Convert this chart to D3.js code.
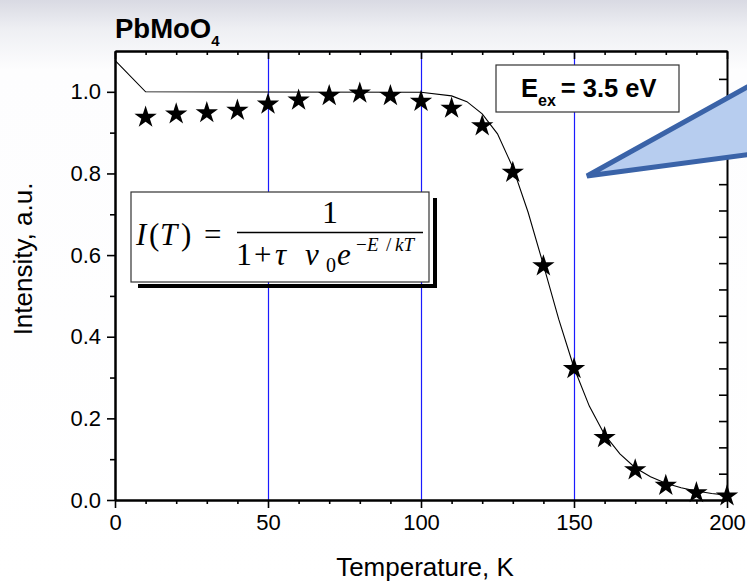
<!DOCTYPE html>
<html>
<head>
<meta charset="utf-8">
<script src="https://cdn.jsdelivr.net/npm/d3@7"></script>
<style>
  body { margin: 0; background: #fff; }
  svg { display: block; }
  text { font-family: "Liberation Sans", Arial, sans-serif; fill: #000; }
  text.serif { font-family: "Liberation Serif", "Times New Roman", serif; }
</style>
</head>
<body>
<svg id="chart" width="747" height="583"></svg>
<script>
// Measured luminescence intensity of PbMoO4 vs temperature
const temperatures = [10, 20, 30, 40, 50, 60, 70, 80, 90, 100,
                      110, 120, 130, 140, 150, 160, 170, 180, 190, 200];
const intensity = [0.940, 0.948, 0.951, 0.957, 0.972, 0.982, 0.993, 0.999, 0.993, 0.979,
                   0.962, 0.919, 0.805, 0.576, 0.324, 0.155, 0.076, 0.038, 0.020, 0.012];

// Thermal-quenching fit curve
const fitTemperatures = [0, 10, 100, 110, 115, 120, 125, 130, 135, 140, 145,
                         150, 155, 160, 165, 170, 175, 180, 185, 190, 195, 200];
const fitIntensity = [1.077, 1.000, 0.999, 0.990, 0.976, 0.946, 0.897, 0.815, 0.705, 0.576, 0.443,
                      0.324, 0.230, 0.160, 0.113, 0.079, 0.057, 0.041, 0.030, 0.022, 0.016, 0.012];

const xTickValues = [0, 50, 100, 150, 200];
const xMinorTicks = [10, 20, 30, 40, 60, 70, 80, 90, 110, 120, 130, 140, 160, 170, 180, 190];
const yTickValues = [0, 0.2, 0.4, 0.6, 0.8, 1.0];
const yMinorTicks = [0.1, 0.3, 0.5, 0.7, 0.9];
const rightTickValues = [0.1, 0.2, 0.3, 0.4, 0.5, 0.6, 0.7, 0.8, 0.9, 1.0, 1.1, 1.2, 1.3, 1.4, 1.5, 1.6];
const guideTemperatures = [50, 100, 150];

const svg = d3.select("#chart");
const W = 747, H = 583;
const m = { left: 115, right: 20, top: 51, bottom: 83 };
const pw = W - m.left - m.right, ph = H - m.top - m.bottom;

// slide background: soft grey band fading out at the top
const defs = svg.append("defs");
const grad = defs.append("linearGradient").attr("id", "bg").attr("x1", 0).attr("y1", 0).attr("x2", 0).attr("y2", 1);
grad.append("stop").attr("offset", 0).attr("stop-color", "#d9dae3");
grad.append("stop").attr("offset", 0.05).attr("stop-color", "#eeeff3");
grad.append("stop").attr("offset", 0.12).attr("stop-color", "#fdfdfe");
grad.append("stop").attr("offset", 1).attr("stop-color", "#ffffff");
svg.append("rect").attr("width", W).attr("height", H).attr("fill", "url(#bg)");

const x = d3.scaleLinear().domain([0, 200]).range([m.left, m.left + pw]);
const y = d3.scaleLinear().domain([0, 1.1]).range([m.top + ph, m.top]);
const yRight = d3.scaleLinear().domain([0, 1.706]).range([m.top + ph, m.top]);

// plot area
svg.append("rect").attr("x", m.left).attr("y", m.top).attr("width", pw).attr("height", ph).attr("fill", "#fff");

// vertical blue guide lines
svg.append("g").selectAll("line").data(guideTemperatures).join("line")
  .attr("x1", d => Math.round(x(d)) + 0.5).attr("x2", d => Math.round(x(d)) + 0.5)
  .attr("y1", y(0)).attr("y2", y(1.1))
  .attr("stroke", "#1a1aff").attr("stroke-width", 1.2);

// fit curve
svg.append("path")
  .datum(fitTemperatures.map((t, i) => [t, fitIntensity[i]]))
  .attr("fill", "none").attr("stroke", "#000").attr("stroke-width", 1.1)
  .attr("d", d3.line().x(d => x(d[0])).y(d => y(d[1])));

// data points
svg.append("g").selectAll("path").data(temperatures.map((t, i) => [t, intensity[i]])).join("path")
  .attr("transform", d => `translate(${x(d[0])},${y(d[1]) + 1})`)
  .attr("d", d3.symbol(d3.symbolStar, 155))
  .attr("fill", "#000");

// axes
function styleAxis(g) {
  g.select(".domain").attr("stroke", "#000").attr("stroke-width", 2);
  g.selectAll(".tick line").attr("stroke", "#000").attr("stroke-width", 1.6);
  g.selectAll(".tick text").style("font-size", "22px").attr("fill", "#000");
}
svg.append("g").attr("transform", `translate(0,${y(0)})`)
  .call(d3.axisBottom(x).tickValues(xTickValues).tickSize(8).tickSizeOuter(0).tickPadding(6).tickFormat(d3.format("d")))
  .call(styleAxis);
svg.append("g").attr("transform", `translate(0,${y(0)})`)
  .call(d3.axisBottom(x).tickValues(xMinorTicks).tickSize(4).tickSizeOuter(0).tickFormat(""))
  .call(styleAxis);

svg.append("g").attr("transform", `translate(${x(0)},0)`)
  .call(d3.axisLeft(y).tickValues(yTickValues).tickSize(8).tickSizeOuter(0).tickPadding(6).tickFormat(d3.format(".1f")))
  .call(styleAxis);
svg.append("g").attr("transform", `translate(${x(0)},0)`)
  .call(d3.axisLeft(y).tickValues(yMinorTicks).tickSize(5).tickSizeOuter(0).tickFormat(""))
  .call(styleAxis);

// top axis: ticks pointing inward
svg.append("g").attr("transform", `translate(0,${y(1.1)})`)
  .call(d3.axisTop(x).tickValues(xTickValues).tickSize(-8).tickSizeOuter(0).tickFormat(""))
  .call(styleAxis);
svg.append("g").attr("transform", `translate(0,${y(1.1)})`)
  .call(d3.axisTop(x).tickValues(xMinorTicks).tickSize(-4).tickSizeOuter(0).tickFormat(""))
  .call(styleAxis);

// right axis: ticks pointing inward
svg.append("g").attr("transform", `translate(${x(200)},0)`)
  .call(d3.axisRight(yRight).tickValues(rightTickValues).tickSize(-8).tickSizeOuter(0).tickFormat(""))
  .call(styleAxis);

// axis titles
svg.append("text").attr("x", 425).attr("y", 576).attr("text-anchor", "middle")
  .style("font-size", "26px").text("Temperature, K");
svg.append("text").attr("transform", `translate(32,259) rotate(-90)`).attr("text-anchor", "middle")
  .style("font-size", "26px").text("Intensity, a.u.");

// title
const title = svg.append("text").attr("x", 115).attr("y", 38).style("font-size", "27.5px").style("font-weight", "bold");
title.append("tspan").text("PbMoO");
title.append("tspan").attr("dy", 8).style("font-size", "15px").text("4");

// formula box with offset shadow bars
const fb = { x: 131, y: 192, w: 298, h: 90 };
svg.append("rect").attr("x", fb.x + 302).attr("y", fb.y + 6).attr("width", 4).attr("height", 89).attr("fill", "#000");
svg.append("rect").attr("x", fb.x + 7).attr("y", fb.y + 92).attr("width", 299).attr("height", 4).attr("fill", "#000");
svg.append("rect").attr("x", fb.x).attr("y", fb.y).attr("width", fb.w).attr("height", fb.h)
  .attr("fill", "#fff").attr("stroke", "#333").attr("stroke-width", 1.2);

// I(T) = 1 / (1 + tau nu0 exp(-E/kT))
function part(parent, xPos, yPos, str, size, italic) {
  parent.append("text").attr("class", "serif").attr("x", xPos).attr("y", yPos)
    .style("font-size", size + "px").style("font-style", italic ? "italic" : "normal").text(str);
}
const f = svg.append("g");
part(f, 136, 245, "I", 31, true);
part(f, 149, 245, "(", 31, false);
part(f, 160, 245, "T", 31, true);
part(f, 181, 245, ")", 31, false);
part(f, 204, 245, "=", 31, false);
part(f, 322, 223, "1", 32, false);
f.append("line").attr("x1", 237).attr("x2", 423).attr("y1", 232.5).attr("y2", 232.5)
  .attr("stroke", "#000").attr("stroke-width", 1.3);
part(f, 236, 265, "1", 32, false);
part(f, 254, 265, "+", 31, false);
part(f, 275, 265, "τ", 31, true);
part(f, 305, 265, "ν", 31, true);
part(f, 326, 272, "0", 20, false);
part(f, 337, 265, "e", 31, true);
part(f, 356, 251, "−", 19, false);
part(f, 367, 251, "E", 19, true);
part(f, 386, 251, "/", 19, false);
part(f, 395, 251, "kT", 19, true);

// excitation energy label
svg.append("rect").attr("x", 496).attr("y", 65).attr("width", 183).attr("height", 47)
  .attr("fill", "#fff").attr("stroke", "#333").attr("stroke-width", 1.2);
const ex = svg.append("text").attr("x", 521).attr("y", 97).style("font-size", "25.5px").style("font-weight", "bold");
ex.append("tspan").text("E");
ex.append("tspan").attr("dy", 9).style("font-size", "16px").text("ex");
ex.append("tspan").attr("dy", -9).attr("dx", 5).text("= 3.5 eV");

// callout wedge pointing into the plot
svg.append("polygon")
  .attr("points", "587,176 760,80 760,153")
  .attr("fill", "#b7cdef").attr("stroke", "#3a63a8").attr("stroke-width", 5).attr("stroke-linejoin", "miter");
</script>
</body>
</html>
